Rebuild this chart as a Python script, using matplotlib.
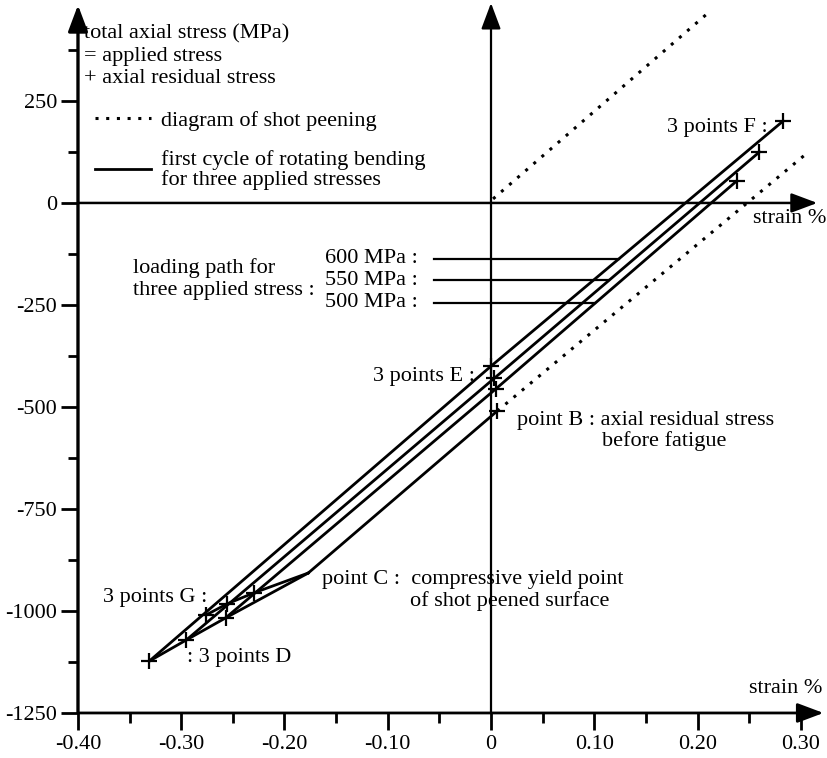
import matplotlib.pyplot as plt
from matplotlib.lines import Line2D
import numpy as np

plt.rcParams['font.family'] = ['Liberation Serif', 'DejaVu Serif']
plt.rcParams['font.size'] = 16
plt.rcParams['axes.unicode_minus'] = False

# applied stress amplitudes (MPa)
applied = [500, 550, 600]

# point B : residual stress before fatigue, point C : compressive yield point
B = (0.006, -510)
C = (-0.177, -907)

# 3 points D (compression), E (strain 0), F (tension), G (back to compression)
D_strain = [-0.257, -0.295, -0.331]
D_stress = [-1017, -1071, -1123]
E_strain = [0.005, 0.003, 0.0]
E_stress = [-455, -430, -400]
F_strain = [0.238, 0.260, 0.283]
F_stress = [54, 125, 201]
G_strain = [-0.230, -0.256, -0.276]
G_stress = [-956, -983, -1010]

# shot peening diagram (dotted)
peen_up_strain = [0.002, 0.209]
peen_up_stress = [10, 463]
peen_low_strain = [B[0], 0.306]
peen_low_stress = [B[1], 122]

# stress level of the "loading path" leaders
leader_stress = [-245, -190, -137]

xticks = [-0.40, -0.30, -0.20, -0.10, 0.0, 0.10, 0.20, 0.30]
xticklabels = ['-0.40', '-0.30', '-0.20', '-0.10', '0', '0.10', '0.20', '0.30']
yticks = [-1250, -1000, -750, -500, -250, 0, 250]
yticklabels = ['-1250', '-1000', '-750', '-500', '-250', '0', '250']

fig = plt.figure(figsize=(8.27, 7.58), dpi=100)
ax = fig.add_axes([0.0943, 0.0594, 0.9052, 0.9393])
ax.set_xlim(-0.40, 0.325)
ax.set_ylim(-1250, 495)
for s in ax.spines.values():
    s.set_visible(False)

ax.set_xticks(xticks)
ax.set_xticklabels(xticklabels)
ax.set_xticks(np.arange(-0.35, 0.30, 0.1), minor=True)
ax.set_yticks(yticks)
ax.set_yticklabels(yticklabels)
ax.set_yticks(np.arange(-1125, 400, 250), minor=True)
ax.tick_params(which='major', length=12, width=2, direction='out', pad=4, labelsize=16)
ax.tick_params(which='minor', length=7, width=2, direction='out')
ax.tick_params(axis='y', which='major', pad=3)


def axis_arrow(p0, p1, lw):
    ax.annotate('', xy=p1, xytext=p0, annotation_clip=False,
                arrowprops=dict(arrowstyle='-|>,head_length=0.8,head_width=0.3',
                                mutation_scale=20, lw=lw, color='k',
                                shrinkA=0, shrinkB=0))


axis_arrow((-0.40, -1250), (-0.40, 485), 2.4)
axis_arrow((-0.40, -1250), (0.322, -1250), 2.0)
axis_arrow((-0.40, 0), (0.316, 0), 1.8)
axis_arrow((0.0, -1250), (0.0, 490), 1.6)

lw = 2.0
dot = (0, (1, 2.5))

# shot peening
ax.plot(peen_up_strain, peen_up_stress, color='k', lw=2.2, ls=dot)
ax.plot(peen_low_strain, peen_low_stress, color='k', lw=2.2, ls=dot)

# first cycle: B -> C elastic, C -> D plastic
ax.plot([B[0], C[0]], [B[1], C[1]], color='k', lw=lw)
ax.plot([C[0]] + D_strain, [C[1]] + D_stress, color='k', lw=lw)
for i in range(3):
    ax.plot([D_strain[i], E_strain[i], F_strain[i]],
            [D_stress[i], E_stress[i], F_stress[i]], color='k', lw=lw)
ax.plot([C[0]] + G_strain, [C[1]] + G_stress, color='k', lw=lw)

# plus markers
mx = [B[0]] + D_strain + E_strain + F_strain + G_strain
my = [B[1]] + D_stress + E_stress + F_stress + G_stress
ax.plot(mx, my, ls='none', marker='+', ms=12, mew=1.6, color='k', clip_on=False)

# loading path leaders
for i in range(3):
    s = leader_stress[i]
    xe = E_strain[i] + (s - E_stress[i]) * (F_strain[i] - E_strain[i]) / (F_stress[i] - E_stress[i])
    ax.plot([-0.055, xe], [s, s], color='k', lw=1.6)
    ax.text(-0.0707, s, f"{applied[i]} MPa :", ha='right', va='center')

ax.text(-0.347, -159, "loading path for", ha='left', va='center')
ax.text(-0.347, -214, "three applied stress :", ha='left', va='center')

# title block
ax.text(-0.394, 414, "total axial stress (MPa)", ha='left', va='center')
ax.text(-0.394, 360, "= applied stress", ha='left', va='center')
ax.text(-0.394, 306, "+ axial residual stress", ha='left', va='center')

# legend
handles = [Line2D([], [], color='k', lw=2.2, ls=dot),
           Line2D([], [], color='k', lw=2.0)]
leg = ax.legend(handles, ["diagram of shot peening",
                          "first cycle of rotating bending\nfor three applied stresses"],
                loc='upper left', bbox_to_anchor=(95 / 827, 1 - 110 / 758),
                bbox_transform=fig.transFigure, frameon=False, borderpad=0,
                borderaxespad=0, handlelength=2.5, handletextpad=0.45,
                labelspacing=0.9, fontsize=16)
for t in leg.get_texts():
    t.set_linespacing(0.95)

# point annotations
ax.text(0.254, -37, "strain %", ha='left', va='center')
ax.text(0.3205, -1189, "strain %", ha='right', va='center')
ax.text(0.268, 184, "3 points F :", ha='right', va='center')
ax.text(-0.0155, -425, "3 points E :", ha='right', va='center')
ax.text(0.025, -532, "point B : axial residual stress", ha='left', va='center')
ax.text(0.1075, -583, "before fatigue", ha='left', va='center')
ax.text(-0.164, -924, "point C :  compressive yield point", ha='left', va='center')
ax.text(-0.078, -975, "of shot peened surface", ha='left', va='center')
ax.text(-0.275, -968, "3 points G :", ha='right', va='center')
ax.text(-0.294, -1113, ": 3 points D", ha='left', va='center')

fig.savefig("out.png", dpi=100)
